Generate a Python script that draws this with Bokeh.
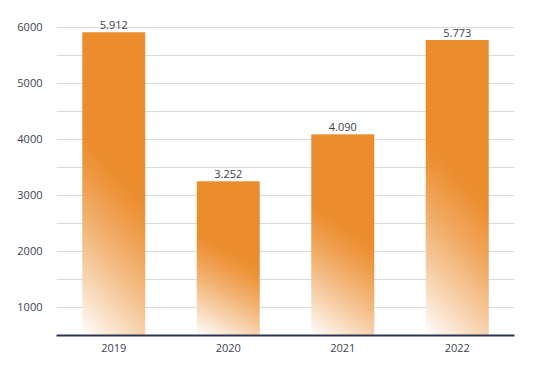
import numpy as np
from bokeh.plotting import figure
from bokeh.models import ColumnDataSource, FixedTicker, Range1d, FactorRange
from bokeh.transform import dodge
from bokeh.core.properties import value
from bokeh.embed import file_html
from bokeh.resources import INLINE

years = ["2019", "2020", "2021", "2022"]
values = [5912, 3252, 4090, 5773]
value_labels = ["5.912", "3.252", "4.090", "5.773"]
y_ticks = [1000, 2000, 3000, 4000, 5000, 6000]
y_minor = [1500, 2500, 3500, 4500, 5500]
baseline = 500

FONT = "Open Sans"
TEXT = "#3b4252"
ORANGE = np.array([236, 141, 45], dtype=float)

# diagonal gradient (bounding-box relative): orange top-right -> white bottom-left
H, W = 240, 60
rows = (np.arange(H) + 0.5) / H          # 0 bottom .. 1 top
cols = (np.arange(W) + 0.5) / W          # 0 left .. 1 right
v = 1.0 - rows[:, None]                  # 0 top .. 1 bottom
u = cols[None, :]
d = 0.82 * v + 0.18 * (1.0 - u)
f = np.clip((d - 0.45) / 0.55, 0, 1) ** 1.25
rgb = ORANGE[None, None, :] * (1 - f[..., None]) + 255.0 * f[..., None]
img = np.zeros((H, W), dtype=np.uint32)
view = img.view(dtype=np.uint8).reshape((H, W, 4))
view[..., 0] = rgb[..., 0].astype(np.uint8)
view[..., 1] = rgb[..., 1].astype(np.uint8)
view[..., 2] = rgb[..., 2].astype(np.uint8)
view[..., 3] = 255

src = ColumnDataSource(dict(
    year=years,
    val=values,
    label=value_labels,
    base=[baseline] * len(years),
    dh=[v_ - baseline for v_ in values],
    image=[img] * len(years),
))

p = figure(
    width=528, height=362,
    x_range=FactorRange(*years, range_padding=0),
    y_range=Range1d(baseline, 6300),
    output_backend="svg", toolbar_location=None,
    min_border_left=56, min_border_right=14,
    min_border_top=10, min_border_bottom=27,
)
p.outline_line_color = None
p.background_fill_color = "white"

p.image_rgba(image="image", x=dodge("year", -0.275, range=p.x_range), y="base",
             dw=0.55, dh="dh", dw_units="data", dh_units="data", source=src)

p.text(x="year", y="val", text="label", source=src,
       text_align="center", text_baseline="bottom", y_offset=-3,
       text_font=value(FONT), text_font_size="11px", text_color=TEXT)

p.xgrid.grid_line_color = None
p.ygrid.grid_line_color = "#d9d9d9"
p.ygrid.minor_grid_line_color = "#d9d9d9"
p.ygrid.level = "underlay"

p.yaxis.ticker = FixedTicker(ticks=y_ticks, minor_ticks=y_minor)
p.yaxis.axis_line_color = None
p.yaxis.major_tick_line_color = None
p.yaxis.minor_tick_line_color = None
p.yaxis.major_label_standoff = 8
p.yaxis.major_label_text_font = FONT
p.yaxis.major_label_text_font_size = "11px"
p.yaxis.major_label_text_color = TEXT

p.xaxis.axis_line_color = "#2b3553"
p.xaxis.axis_line_width = 2
p.xaxis.major_tick_line_color = None
p.xaxis.minor_tick_line_color = None
p.xaxis.major_label_standoff = 2
p.xaxis.major_label_text_font = FONT
p.xaxis.major_label_text_font_size = "11px"
p.xaxis.major_label_text_color = TEXT

open("out.html", "w").write(file_html(p, INLINE))
